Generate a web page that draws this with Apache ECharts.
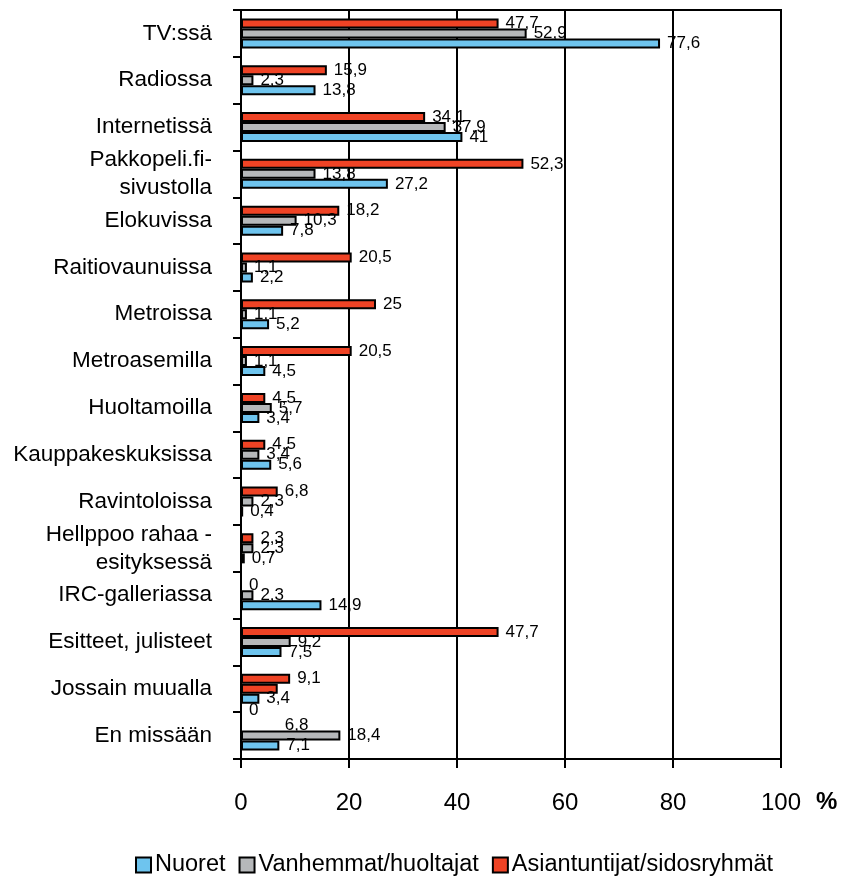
<!DOCTYPE html>
<html>
<head>
<meta charset="utf-8">
<script src="https://cdn.jsdelivr.net/npm/echarts@6/dist/echarts.min.js"></script>
<style>
  html, body { margin: 0; padding: 0; background: #fff; }
  #chart { width: 842px; height: 877px; }
</style>
</head>
<body>
<div id="chart"></div>
<script>
// Categories (top to bottom) and percentages per respondent group
const categories = [
  'TV:ssä', 'Radiossa', 'Internetissä', 'Pakkopeli.fi-\nsivustolla', 'Elokuvissa',
  'Raitiovaunuissa', 'Metroissa', 'Metroasemilla', 'Huoltamoilla', 'Kauppakeskuksissa',
  'Ravintoloissa', 'Hellppoo rahaa -\nesityksessä', 'IRC-galleriassa', 'Esitteet, julisteet',
  'Jossain muualla', 'En missään'
];
const nuoret        = [77.6, 13.8, 41, 27.2, 7.8, 2.2, 5.2, 4.5, 3.4, 5.6, 0.4, 0.7, 14.9, 7.5, 3.4, 7.1];
const vanhemmat     = [52.9, 2.3, 37.9, 13.8, 10.3, 1.1, 1.1, 1.1, 5.7, 3.4, 2.3, 2.3, 2.3, 9.2, 6.8, 18.4];
const asiantuntijat = [47.7, 15.9, 34.1, 52.3, 18.2, 20.5, 25, 20.5, 4.5, 4.5, 6.8, 2.3, 0, 47.7, 9.1, 0];
const seriesNames   = ['Nuoret', 'Vanhemmat/huoltajat', 'Asiantuntijat/sidosryhmät'];
const xTicks        = [0, 20, 40, 60, 80, 100];

const BLUE = '#6EC4EE';
const GRAY = '#B6B8BA';
const RED = '#EF4325';
const FONT = "'Liberation Sans', Arial, sans-serif";

const fmt = v => String(v).replace('.', ',');

// "Jossain muualla" middle bar is drawn in red, and its label sits lower
const vanhemmatData = vanhemmat.map((v, i) => i === 14
  ? { value: v, itemStyle: { color: RED }, label: { offset: [0, 37] } }
  : v);
const asiantuntijatData = asiantuntijat.map((v, i) => i === 15
  ? { value: v, label: { offset: [0, -15] } }
  : v);

const barBase = {
  type: 'bar',
  barWidth: 10,
  barGap: '0%',
  label: {
    show: true,
    position: 'right',
    distance: 7,
    color: '#000',
    fontFamily: FONT,
    fontSize: 17,
    formatter: p => fmt(p.value)
  }
};

const chart = echarts.init(document.getElementById('chart'), null, { renderer: 'canvas' });
chart.setOption({
  animation: false,
  backgroundColor: '#fff',
  grid: {
    left: 241, right: 61, top: 10, bottom: 118,
    show: true, borderColor: '#000', borderWidth: 2, backgroundColor: 'transparent'
  },
  legend: {
    data: seriesNames,
    left: 130,
    top: 848,
    itemWidth: 15,
    itemHeight: 15,
    itemGap: 13,
    icon: 'rect',
    textStyle: { color: '#000', fontFamily: FONT, fontSize: 23.5, padding: [0, 0, 0, -1] }
  },
  xAxis: {
    type: 'value',
    min: xTicks[0],
    max: xTicks[xTicks.length - 1],
    interval: xTicks[1] - xTicks[0],
    axisLine: { show: true, lineStyle: { color: '#000', width: 2 } },
    axisTick: { show: true, length: 9, lineStyle: { color: '#000', width: 2 } },
    axisLabel: { color: '#000', fontFamily: FONT, fontSize: 24, margin: 32 },
    splitLine: { show: true, lineStyle: { color: '#000', width: 2 } }
  },
  yAxis: {
    type: 'category',
    inverse: true,
    data: categories,
    axisLine: { show: true, lineStyle: { color: '#000', width: 2 } },
    axisTick: { show: true, length: 8, lineStyle: { color: '#000', width: 2 } },
    axisLabel: { color: '#000', fontFamily: FONT, fontSize: 22.5, margin: 29, lineHeight: 28, align: 'right' },
    splitLine: { show: false }
  },
  graphic: [{
    type: 'text',
    left: 816,
    top: 790,
    style: { text: '%', fill: '#000', font: "bold 24px 'Liberation Sans', Arial, sans-serif" }
  }],
  series: [
    Object.assign({}, barBase, { name: seriesNames[2], data: asiantuntijatData, itemStyle: { color: RED, borderColor: '#000', borderWidth: 2 } }),
    Object.assign({}, barBase, { name: seriesNames[1], data: vanhemmatData, itemStyle: { color: GRAY, borderColor: '#000', borderWidth: 2 } }),
    Object.assign({}, barBase, { name: seriesNames[0], data: nuoret, itemStyle: { color: BLUE, borderColor: '#000', borderWidth: 2 } })
  ]
});
</script>
</body>
</html>
